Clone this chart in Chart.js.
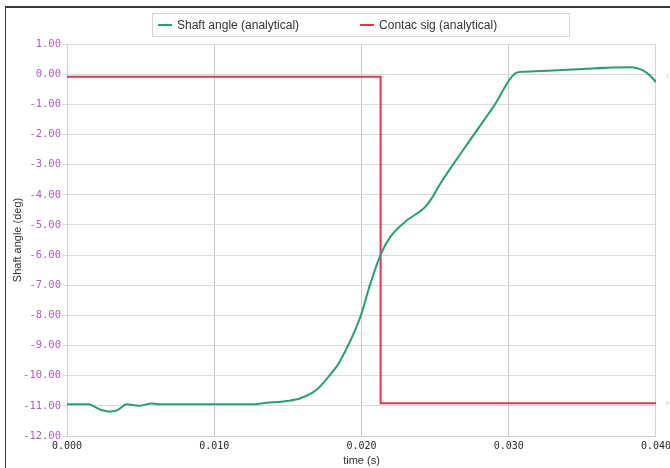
<!DOCTYPE html>
<html lang="en">

<head>
    <meta charset="UTF-8">
    <title>Shaft angle</title>
    <script src="https://cdn.jsdelivr.net/npm/chart.js"></script>
    <style>
        body {
            margin: 0;
            background: #ffffff;
            overflow: hidden;
        }

        .quadro {
            position: absolute;
            left: 5px;
            top: 6px;
            width: 700px;
            height: 500px;
            border-left: 1.5px solid #3c3c3c;
            border-top: 2px solid #3c3c3c;
        }

        #grafico {
            position: absolute;
            left: 0;
            top: 0;
        }

        .legenda {
            position: absolute;
            left: 152px;
            top: 13px;
            width: 416px;
            height: 22px;
            border: 1px solid #d6d6d6;
            display: flex;
            align-items: center;
            font-family: "Liberation Sans", Arial, sans-serif;
            font-size: 12px;
            color: #333;
        }

        .item {
            display: flex;
            align-items: center;
        }

        .traco {
            width: 14px;
            height: 2px;
            margin-right: 5px;
        }
    </style>
</head>

<body>
    <div class="quadro"></div>
    <!-- canvas um pouco mais largo que a janela: o rotulo 0.040 fica cortado como no original -->
    <canvas id="grafico" width="675" height="468"></canvas>
    <div class="legenda" id="legenda"></div>

    <script>
        // valores
        var tempoEixo = [0, 0.01, 0.02, 0.03, 0.04];
        var anguloEixo = [-12, -11, -10, -9, -8, -7, -6, -5, -4, -3, -2, -1, 0, 1];
        var sinalEixo = [0, 1];

        var tempoAngulo = [0, 0.00145, 0.00224, 0.00293, 0.0034, 0.00406, 0.00485, 0.00576, 0.0064,
            0.009, 0.01245, 0.01358, 0.01494, 0.01585, 0.01699, 0.01823, 0.01846, 0.01993, 0.02061,
            0.02129, 0.02197, 0.02311, 0.02424, 0.0247, 0.02537, 0.027, 0.029, 0.0305,
            0.031, 0.033, 0.035, 0.037, 0.0383, 0.039, 0.0395, 0.04];
        var anguloAnalitico = [-10.95, -10.95, -11.12, -11.19, -11.15, -10.95, -11.0, -10.92, -10.95,
            -10.95, -10.95, -10.9, -10.84, -10.75, -10.45, -9.75, -9.59, -8.04, -6.94,
            -6.0, -5.39, -4.84, -4.45, -4.17, -3.62, -2.45, -1.05, 0.04,
            0.08, 0.12, 0.17, 0.22, 0.23, 0.15, 0.0, -0.26];

        var tempoSinal = [0, 0.0213, 0.0213, 0.04];
        var sinalContato = [1, 1, 0, 0];

        var nomes = ["Shaft angle (analytical)", "Contac sig (analytical)"];
        var cores = ["#2a9d78", "#e6334d"];

        function pontos(xs, ys) {
            var lista = [];
            for (var i = 0; i < xs.length; i++) {
                lista.push({ x: xs[i], y: ys[i] });
            }
            return lista;
        }

        var grafico = new Chart(document.getElementById("grafico"), {
            type: "line",
            data: {
                datasets: [
                    {
                        label: nomes[0],
                        data: pontos(tempoAngulo, anguloAnalitico),
                        borderColor: cores[0],
                        backgroundColor: cores[0],
                        borderWidth: 2,
                        pointRadius: 0,
                        cubicInterpolationMode: "monotone",
                        yAxisID: "y",
                    },
                    {
                        label: nomes[1],
                        data: pontos(tempoSinal, sinalContato),
                        borderColor: cores[1],
                        backgroundColor: cores[1],
                        borderWidth: 2,
                        pointRadius: 0,
                        tension: 0,
                        yAxisID: "y2",
                    },
                ],
            },
            options: {
                responsive: false,
                animation: false,
                layout: {
                    padding: { top: 44, left: 0, right: 0, bottom: 0 },
                },
                plugins: {
                    legend: { display: false },
                    tooltip: { enabled: false },
                },
                scales: {
                    x: {
                        type: "linear",
                        min: tempoEixo[0],
                        max: tempoEixo[tempoEixo.length - 1],
                        afterBuildTicks: function (escala) {
                            escala.ticks = tempoEixo.map(function (v) { return { value: v }; });
                        },
                        afterFit: function (escala) {
                            escala.height = 32;
                        },
                        grid: {
                            color: "#c8c8c8",
                            drawTicks: false,
                        },
                        border: { color: "#d0d0d0" },
                        ticks: {
                            padding: 4,
                            maxRotation: 0,
                            color: "#2a2a2a",
                            font: { family: "DejaVu Sans Mono", size: 10 },
                            callback: function (v) { return Number(v).toFixed(3); },
                        },
                        title: {
                            display: true,
                            text: "time (s)",
                            color: "#333",
                            padding: 0,
                            font: { family: "Liberation Sans", size: 11 },
                        },
                    },
                    y: {
                        position: "left",
                        min: anguloEixo[0],
                        max: anguloEixo[anguloEixo.length - 1],
                        afterBuildTicks: function (escala) {
                            escala.ticks = anguloEixo.map(function (v) { return { value: v }; });
                        },
                        afterFit: function (escala) {
                            escala.width = 67;
                        },
                        grid: {
                            color: "#dadada",
                            tickLength: 5,
                        },
                        border: { color: "#d0d0d0" },
                        ticks: {
                            padding: 1,
                            color: "#a862b6",
                            font: { family: "DejaVu Sans Mono", size: 10.5 },
                            callback: function (v) { return Number(v).toFixed(2); },
                        },
                        title: {
                            display: true,
                            text: "Shaft angle (deg)",
                            color: "#333",
                            padding: { top: 11, bottom: 0 },
                            font: { family: "Liberation Sans", size: 11 },
                        },
                    },
                    y2: {
                        position: "right",
                        min: -0.1,
                        max: 1.1,
                        afterBuildTicks: function (escala) {
                            escala.ticks = sinalEixo.map(function (v) { return { value: v }; });
                        },
                        afterFit: function (escala) {
                            escala.width = 15;
                        },
                        grid: { display: false },
                        border: { color: "#d0d0d0" },
                        ticks: {
                            padding: 2,
                            color: "#c0c0c0",
                            font: { family: "DejaVu Sans", size: 5 },
                        },
                    },
                },
            },
        });

        // legenda em html, com a moldura clara do original
        var legenda = document.getElementById("legenda");
        grafico.data.datasets.forEach(function (ds, i) {
            var item = document.createElement("div");
            item.className = "item";
            item.style.marginLeft = i == 0 ? "5px" : "61px";
            var traco = document.createElement("span");
            traco.className = "traco";
            traco.style.background = ds.borderColor;
            var texto = document.createElement("span");
            texto.textContent = ds.label;
            item.appendChild(traco);
            item.appendChild(texto);
            legenda.appendChild(item);
        });
    </script>
</body>

</html>
